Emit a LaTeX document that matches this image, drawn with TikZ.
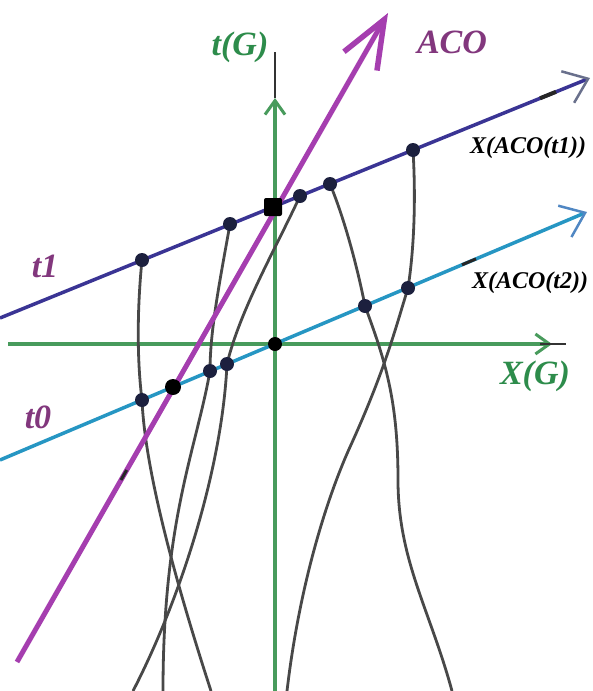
\documentclass[tikz,border=0pt]{standalone}
\usepackage{fontspec}
\setmainfont{Liberation Serif}
\usetikzlibrary{arrows.meta}
\definecolor{axgreen}{RGB}{72,155,92}
\definecolor{labgreen}{RGB}{45,140,75}
\definecolor{tonecol}{RGB}{58,52,148}
\definecolor{tzerocol}{RGB}{38,150,195}
\definecolor{acocol}{RGB}{165,62,175}
\definecolor{labpurple}{RGB}{130,55,125}
\definecolor{wlcol}{RGB}{72,72,72}
\definecolor{dotcol}{RGB}{28,32,62}
\definecolor{headgray}{RGB}{105,112,140}
\definecolor{headblue}{RGB}{80,135,195}
\begin{document}
\begin{tikzpicture}[x=1pt,y=-1pt,
  axisline/.style={draw=axgreen,line width=4.5pt},
  axisext/.style={draw=black!80,line width=1.8pt},
  toneline/.style={draw=tonecol,line width=3.5pt},
  tzeroline/.style={draw=tzerocol,line width=3.5pt},
  acoline/.style={draw=acocol,line width=5pt},
  worldline/.style={draw=wlcol,line width=2.8pt},
  blot/.style={draw=black!85,line width=4pt},
  tdot/.style={circle,fill=dotcol,inner sep=0pt,minimum size=14pt},
  bigsq/.style={rectangle,rounded corners=2pt,fill=black,inner sep=0pt,minimum size=18pt},
  bigdot/.style={circle,fill=black,inner sep=0pt,minimum size=16pt},
  biglab/.style={font=\fontsize{34}{40}\selectfont\bfseries\itshape,inner sep=0pt},
  smalllab/.style={font=\fontsize{24}{28}\selectfont\bfseries\itshape,inner sep=0pt}
]
\useasboundingbox (0,0) rectangle (592,691);
\fill[white] (0,0) rectangle (592,691);

% key coordinates
\coordinate (L1s) at (0,318);   \coordinate (L1e) at (590,78);
\coordinate (L0s) at (0,460);   \coordinate (L0e) at (587,212);
\coordinate (Ps) at (17,662);   \coordinate (Pe) at (388,13);
\coordinate (Hs) at (8,344);    \coordinate (He) at (552,344); \coordinate (Hx) at (566,344);
\coordinate (Vb) at (275,691);  \coordinate (Vt) at (275,98);  \coordinate (Vx) at (275,52);

% dots on t1
\coordinate (a1) at (142,260); \coordinate (a2) at (230,224); \coordinate (a3) at (273,207);
\coordinate (a4) at (300,196); \coordinate (a5) at (330,184); \coordinate (a6) at (413,150);
% dots on t0
\coordinate (b1) at (142,400); \coordinate (b2) at (173,387); \coordinate (b3) at (210,371);
\coordinate (b4) at (227,364); \coordinate (b5) at (275,344); \coordinate (b6) at (365,306);
\coordinate (b7) at (408,288);
% lower ends
\coordinate (e1) at (211,691); \coordinate (e2) at (163,691); \coordinate (e3) at (133,691);
\coordinate (e4) at (452,691); \coordinate (e5) at (287,691);
\coordinate (c4) at (398,480); \coordinate (c5) at (350,447);

% axes
\draw[axisline,-{Straight Barb[length=14pt,width=20pt,line width=3pt]}] (Vb) -- (Vt);
\draw[axisext] (Vt) -- (Vx);
\draw[axisline,-{Straight Barb[length=14pt,width=20pt,line width=3pt]}] (Hs) -- (He);
\draw[axisext] (540,344) -- (Hx);

% world lines
\draw[worldline] (a1) .. controls (137,310) and (137,360) .. (b1)
  .. controls (145,470) and (175,580) .. (e1);
\draw[worldline] (a2) .. controls (220,280) and (210,330) .. (b3)
  .. controls (196,450) and (163,520) .. (e2);
\draw[worldline] (a4) .. controls (275,250) and (240,310) .. (b4)
  .. controls (222,470) and (180,600) .. (e3);
\draw[worldline] (a5) .. controls (345,220) and (358,270) .. (b6)
  .. controls (385,360) and (398,400) .. (c4)
  .. controls (398,560) and (430,610) .. (e4);
\draw[worldline] (a6) .. controls (416,200) and (414,250) .. (b7)
  .. controls (395,330) and (385,370) .. (c5)
  .. controls (329,493) and (300,580) .. (e5);

% simultaneity lines
\draw[toneline,-{Straight Barb[length=22pt,width=34pt,line width=2.5pt,color=headgray]}] (L1s) -- (L1e);
\draw[tzeroline,-{Straight Barb[length=22pt,width=34pt,line width=2.5pt,color=headblue]}] (L0s) -- (L0e);
\draw[blot] (540,98.3) -- (556,91.8);
\draw[blot,line width=3pt] (462,264.8) -- (476,258.9);

% ACO
\draw[acoline,-{Straight Barb[length=48pt,width=38pt,line width=5.5pt]}] (Ps) -- (Pe);
\draw[blot,line width=3pt] (126.7,470) -- (121,480);

% dots
\foreach \n in {a1,a2,a4,a5,a6,b1,b3,b4,b6,b7} \node[tdot] (d\n) at (\n) {};
\node[bigsq] (da3) at (a3) {};
\node[bigdot] (db2) at (b2) {};
\node[bigdot,minimum size=14pt] (db5) at (b5) {};

% labels
\node[biglab,text=labgreen] (tG) at (240,47) {t(G)};
\node[biglab,text=labpurple] (aco) at (452,42) {ACO};
\node[smalllab] (xt1) at (528,148) {X(ACO(t1))};
\node[smalllab] (xt2) at (530,283) {X(ACO(t2))};
\node[biglab,text=labgreen] (xG) at (535,376) {X(G)};
\node[biglab,text=labpurple] (lt1) at (45,266) {t1};
\node[biglab,text=labpurple] (lt0) at (38,417) {t0};
\end{tikzpicture}
\end{document}
